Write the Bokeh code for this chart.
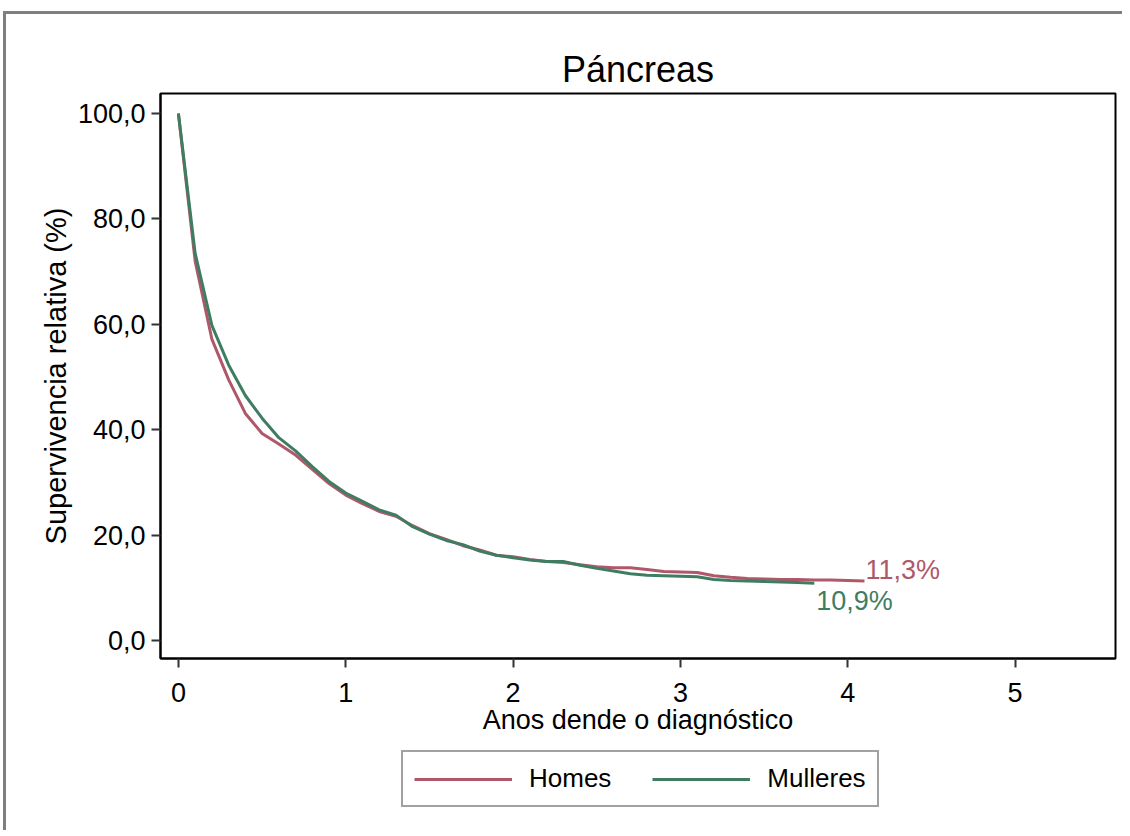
from bokeh.plotting import figure
from bokeh.layouts import column
from bokeh.models import Range1d, FixedTicker, CustomJSTickFormatter, Legend, LegendItem
from bokeh.core.properties import value
from bokeh.embed import file_html
from bokeh.resources import INLINE

# ---------------- data ----------------
title_text = "Páncreas"
x_label = "Anos dende o diagnóstico"
y_label = "Supervivencia relativa (%)"
series_names = ["Homes", "Mulleres"]

years_homes = [0.0, 0.1, 0.2, 0.3, 0.4, 0.5, 0.6, 0.7, 0.8, 0.9,
               1.0, 1.1, 1.2, 1.3, 1.4, 1.5, 1.6, 1.7, 1.8, 1.9,
               2.0, 2.1, 2.2, 2.3, 2.4, 2.5, 2.6, 2.7, 2.8, 2.9,
               3.0, 3.1, 3.2, 3.3, 3.4, 3.5, 3.6, 3.7, 3.8, 3.9,
               4.0, 4.1]
homes = [100.0, 72.0, 57.2, 49.5, 43.1, 39.3, 37.3, 35.2, 32.5, 29.8,
         27.6, 26.0, 24.5, 23.6, 21.8, 20.3, 19.2, 18.0, 17.2, 16.2,
         15.9, 15.4, 15.0, 14.8, 14.4, 14.0, 13.8, 13.8, 13.5, 13.1,
         13.0, 12.9, 12.3, 12.0, 11.8, 11.7, 11.6, 11.6, 11.5, 11.5,
         11.4, 11.3]

years_mulleres = [0.0, 0.1, 0.2, 0.3, 0.4, 0.5, 0.6, 0.7, 0.8, 0.9,
                  1.0, 1.1, 1.2, 1.3, 1.4, 1.5, 1.6, 1.7, 1.8, 1.9,
                  2.0, 2.1, 2.2, 2.3, 2.4, 2.5, 2.6, 2.7, 2.8, 2.9,
                  3.0, 3.1, 3.2, 3.3, 3.4, 3.5, 3.6, 3.7, 3.8]
mulleres = [100.0, 73.5, 59.8, 52.3, 46.5, 42.2, 38.5, 36.0, 33.0, 30.2,
            28.0, 26.4, 24.8, 23.8, 21.6, 20.2, 19.0, 18.2, 17.0, 16.2,
            15.7, 15.3, 15.0, 15.0, 14.3, 13.7, 13.2, 12.7, 12.4, 12.3,
            12.2, 12.1, 11.6, 11.4, 11.3, 11.2, 11.1, 11.0, 10.9]

end_labels = ["11,3%", "10,9%"]
x_ticks = [0, 1, 2, 3, 4, 5]
y_ticks = [0, 20, 40, 60, 80, 100]

# ---------------- style ----------------
FONT = "Liberation Sans"
RED = "#b0586a"
GREEN = "#3f7d63"
W = 1116

p = figure(width=W, height=726,
           x_range=Range1d(-0.107, 5.6), y_range=Range1d(-3.4, 103.8),
           output_backend="svg", toolbar_location=None,
           min_border_left=154, min_border_right=7,
           min_border_top=79, min_border_bottom=82,
           title=title_text)

p.title.text_font = FONT
p.title.text_font_size = "36px"
p.title.text_font_style = "normal"
p.title.text_color = "#000000"
p.title.align = "center"
p.title.standoff = 7

p.background_fill_color = "white"
p.border_fill_color = "white"
p.outline_line_color = "#000000"
p.outline_line_width = 2
p.xgrid.grid_line_color = None
p.ygrid.grid_line_color = None

for ax in (p.xaxis[0], p.yaxis[0]):
    ax.axis_line_width = 2
    ax.axis_line_color = "#000000"
    ax.major_tick_line_width = 2
    ax.major_tick_line_color = "#333333"
    ax.major_tick_in = 0
    ax.major_tick_out = 9
    ax.minor_tick_line_color = None
    ax.major_label_text_font = FONT
    ax.major_label_text_font_size = "27px"
    ax.major_label_text_color = "#000000"
    ax.axis_label_text_font = FONT
    ax.axis_label_text_font_style = "normal"
    ax.axis_label_text_color = "#000000"

p.xaxis[0].ticker = FixedTicker(ticks=x_ticks)
p.xaxis[0].major_label_standoff = 15
p.xaxis[0].axis_label = x_label
p.xaxis[0].axis_label_text_font_size = "27px"
p.xaxis[0].axis_label_standoff = 0

p.yaxis[0].ticker = FixedTicker(ticks=y_ticks)
p.yaxis[0].formatter = CustomJSTickFormatter(code="return tick.toFixed(1).replace('.', ',');")
p.yaxis[0].major_label_standoff = 6
p.yaxis[0].axis_label = y_label
p.yaxis[0].axis_label_text_font_size = "29px"
p.yaxis[0].axis_label_standoff = 3

p.line(years_homes, homes, line_color=RED, line_width=3, line_join="round")
p.line(years_mulleres, mulleres, line_color=GREEN, line_width=3, line_join="round")

p.text(x=[years_homes[-1]], y=[homes[-1]], text=[end_labels[0]],
       text_font=value(FONT), text_font_size="27px", text_color=RED,
       text_baseline="middle", text_align="left", x_offset=1, y_offset=-11)
p.text(x=[years_mulleres[-1]], y=[mulleres[-1]], text=[end_labels[1]],
       text_font=value(FONT), text_font_size="27px", text_color=GREEN,
       text_baseline="middle", text_align="left", x_offset=2, y_offset=18)

# ---------------- legend strip below (its lines fall outside its own view) ----------------
p2 = figure(width=W, height=90, x_range=Range1d(0, 1), y_range=Range1d(-2, -1),
            x_axis_location=None, y_axis_location=None,
            output_backend="svg", toolbar_location=None, min_border=0)
p2.outline_line_color = None
p2.grid.grid_line_color = None
p2.background_fill_color = "white"
p2.border_fill_color = "white"
lg_h = p2.line(years_homes, homes, line_color=RED, line_width=3)
lg_m = p2.line(years_mulleres, mulleres, line_color=GREEN, line_width=3)

legend = Legend(items=[LegendItem(label=series_names[0], renderers=[lg_h]),
                       LegendItem(label=series_names[1], renderers=[lg_m])],
                orientation="horizontal", location=(241, 23),
                glyph_width=98, glyph_height=26, label_standoff=17,
                spacing=41, padding=11, margin=0,
                label_text_font=FONT, label_text_font_size="26px",
                label_text_color="#000000",
                border_line_color="#444444", border_line_width=2,
                background_fill_color="white")
p2.add_layout(legend, "center")

layout = column(p, p2, spacing=0,
                styles={"border-top": "3px solid #7f7f7f",
                        "border-left": "3px solid #7f7f7f",
                        "margin-top": "11px", "margin-left": "3px"})

open("out.html", "w").write(file_html(layout, INLINE))
